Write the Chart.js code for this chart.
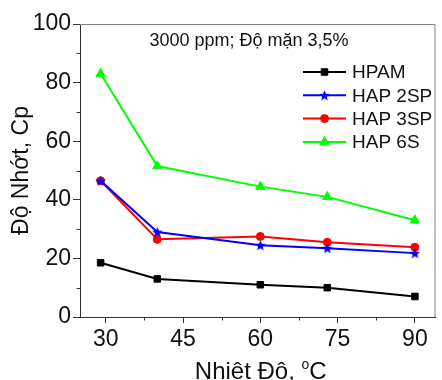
<!DOCTYPE html>
<html>
<head>
<meta charset="utf-8">
<script src="https://cdn.jsdelivr.net/npm/chart.js@4"></script>
<style>
  body { margin: 0; background: #fff; }
  canvas { display: block; }
</style>
</head>
<body>
<canvas id="chart" width="442" height="380"></canvas>
<script>
// data
const temps = [29, 40, 60, 73, 90];
const hpam = [18.5, 13, 11, 10, 7];
const hap2sp = [46.5, 29, 24.5, 23.5, 21.8];
const hap3sp = [46.5, 26.5, 27.5, 25.5, 23.8];
const hap6s = [83, 51.5, 44.5, 41, 33];
const seriesNames = ['HPAM', 'HAP 2SP', 'HAP 3SP', 'HAP 6S'];
const xTicks = [30, 45, 60, 75, 90];
const xMinor = [37.5, 52.5, 67.5, 82.5];
const yMinor = [10, 30, 50, 70, 90];

const FONT = '"Liberation Sans", Arial, sans-serif';

function pts(arr) {
    return arr.map(function(v, i) { return { x: temps[i], y: v }; });
}

// filled 5 point star for HAP 2SP
function makeStar(color, r) {
    const c = document.createElement('canvas');
    const s = Math.ceil(r * 2 + 2);
    c.width = s; c.height = s;
    const g = c.getContext('2d');
    g.fillStyle = color;
    g.beginPath();
    for (let i = 0; i < 10; i++) {
        const rad = i % 2 === 0 ? r : r * 0.45;
        const a = -Math.PI / 2 + i * Math.PI / 5;
        g.lineTo(s / 2 + rad * Math.cos(a), s / 2 + rad * Math.sin(a) + 0.5);
    }
    g.closePath();
    g.fill();
    return c;
}
const star = makeStar('#0000ff', 5.5);

// extra bits: minor ticks, box, legend, titles
const decorations = {
    id: 'decorations',
    afterDraw(chart) {
        const ctx = chart.ctx;
        const a = chart.chartArea;
        const xs = chart.scales.x, ys = chart.scales.y;
        ctx.save();
        // top & right frame
        ctx.strokeStyle = '#808080';
        ctx.lineWidth = 1;
        ctx.beginPath();
        ctx.moveTo(a.left, a.top + 0.5);
        ctx.lineTo(a.right - 0.5, a.top + 0.5);
        ctx.lineTo(a.right - 0.5, a.bottom);
        ctx.stroke();
        // minor ticks
        ctx.strokeStyle = '#333';
        ctx.beginPath();
        xMinor.forEach(function(v) {
            const px = Math.round(xs.getPixelForValue(v)) + 0.5;
            ctx.moveTo(px, a.bottom);
            ctx.lineTo(px, a.bottom + 3.5);
        });
        yMinor.forEach(function(v) {
            const py = Math.round(ys.getPixelForValue(v)) + 0.5;
            ctx.moveTo(a.left, py);
            ctx.lineTo(a.left - 3.5, py);
        });
        ctx.stroke();

        // title inside plot
        ctx.fillStyle = '#111';
        ctx.font = '18px ' + FONT;
        ctx.textAlign = 'center';
        ctx.textBaseline = 'middle';
        ctx.fillText('3000 ppm; Độ mặn 3,5%', 249, 41);

        // legend
        chart.data.datasets.forEach(function(ds, i) {
            const y = 72 + i * 23.3;
            ctx.strokeStyle = ds.borderColor;
            ctx.lineWidth = 2;
            ctx.beginPath();
            ctx.moveTo(303, y);
            ctx.lineTo(346, y);
            ctx.stroke();
            ctx.fillStyle = ds.borderColor;
            ctx.lineWidth = 1;
            Chart.helpers.drawPoint(ctx, {
                pointStyle: ds.pointStyle,
                radius: ds.pointRadius,
                borderWidth: 1,
                rotation: 0
            }, 324.5, y);
            ctx.fillStyle = '#111';
            ctx.font = '19px ' + FONT;
            ctx.textAlign = 'left';
            ctx.textBaseline = 'middle';
            ctx.fillText(ds.label, 352, y + 1);
        });

        // x axis title with superscript
        ctx.fillStyle = '#111';
        ctx.textBaseline = 'alphabetic';
        ctx.textAlign = 'left';
        const big = '24px ' + FONT, small = '14px ' + FONT;
        ctx.font = big;
        const t1 = 'Nhiêt Đô, ';
        const w1 = ctx.measureText(t1).width;
        const w3 = ctx.measureText('C').width;
        ctx.font = small;
        const w2 = ctx.measureText('o').width;
        let x0 = (a.left + a.right) / 2 + 3 - (w1 + w2 + w3) / 2;
        const base = 379;
        ctx.font = big;
        ctx.fillText(t1, x0, base);
        ctx.font = small;
        ctx.fillText('o', x0 + w1, base - 10);
        ctx.font = big;
        ctx.fillText('C', x0 + w1 + w2, base);
        ctx.restore();
    }
};

const common = { borderWidth: 2, fill: false, tension: 0, pointBorderWidth: 1 };

new Chart(document.getElementById('chart'), {
    type: 'line',
    data: {
        datasets: [
            Object.assign({ label: seriesNames[0], data: pts(hpam), borderColor: '#000000', backgroundColor: '#000000', pointStyle: 'rect', pointRadius: 4.6 }, common),
            Object.assign({ label: seriesNames[1], data: pts(hap2sp), borderColor: '#0000ff', backgroundColor: '#0000ff', pointStyle: star, pointRadius: 5.5 }, common),
            Object.assign({ label: seriesNames[2], data: pts(hap3sp), borderColor: '#ff0000', backgroundColor: '#ff0000', pointStyle: 'circle', pointRadius: 4 }, common),
            Object.assign({ label: seriesNames[3], data: pts(hap6s), borderColor: '#00ff00', backgroundColor: '#00ff00', pointStyle: 'triangle', pointRadius: 5.4 }, common)
        ]
    },
    options: {
        responsive: false,
        animation: false,
        layout: { padding: { top: 24, right: 5, left: 0, bottom: 0 } },
        plugins: { legend: { display: false }, tooltip: { enabled: false } },
        scales: {
            x: {
                type: 'linear',
                min: 25,
                max: 94,
                afterBuildTicks: function(s) { s.ticks = xTicks.map(function(v) { return { value: v }; }); },
                afterFit: function(s) { s.height = 63; },
                grid: { drawOnChartArea: false, drawTicks: true, tickLength: 6, color: '#333' },
                border: { display: true, color: '#333', width: 1 },
                ticks: { color: '#111', font: { family: FONT, size: 23 }, padding: 3, maxRotation: 0, autoSkip: false }
            },
            y: {
                min: 0,
                max: 100,
                ticks: { stepSize: 20, color: '#111', font: { family: FONT, size: 23 }, padding: 2 },
                afterFit: function(s) { s.width = 80; },
                grid: { drawOnChartArea: false, drawTicks: true, tickLength: 7, color: '#333' },
                border: { display: true, color: '#333', width: 1 },
                title: { display: true, text: 'Độ Nhớt, Cp', color: '#111', font: { family: FONT, size: 23 }, padding: { top: 8, bottom: 0 } }
            }
        }
    },
    plugins: [decorations]
});
</script>
</body>
</html>
